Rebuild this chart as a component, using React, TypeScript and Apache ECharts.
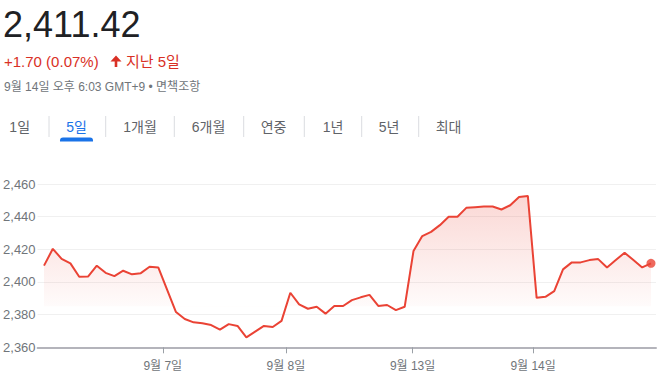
import React, { useEffect, useRef } from "react";
import * as echarts from "echarts";

// ---- data ----
const prices: number[] = [
  // 9/6
  2410.0, 2420.3, 2414.2, 2411.4, 2403.2, 2403.3, 2410.0, 2405.6, 2403.6, 2406.9, 2404.7, 2405.4, 2409.3, 2408.8,
  // 9/7
  2395.2, 2381.6, 2377.3, 2375.3, 2374.7, 2373.6, 2370.8, 2374.2, 2373.1, 2366.1, 2369.6, 2373.1, 2372.4, 2376.2,
  // 9/8
  2393.4, 2386.3, 2383.6, 2384.8, 2380.6, 2385.3, 2385.3, 2388.9, 2390.6, 2392.1, 2385.3, 2385.9, 2382.8, 2384.8,
  // 9/13
  2418.9, 2428.1, 2430.7, 2434.8, 2439.9, 2439.9, 2445.4, 2445.8, 2446.2, 2446.2, 2444.4, 2447.0, 2452.1, 2452.7,
  // 9/14
  2390.3, 2390.9, 2394.4, 2407.7, 2412.0, 2412.0, 2413.4, 2414.0, 2408.9, 2413.4, 2417.9, 2413.4, 2408.9, 2411.42,
];
const dayLabels: string[] = ["9월 7일", "9월 8일", "9월 13일", "9월 14일"];
const dayTickPos: number[] = [13.5, 27.5, 41.9, 55.6];
const yMin = 2360;
const yMax = 2460;
const yStep = 20;
const baseline = 2385;

const priceText = "2,411.42";
const changeText = "+1.70 (0.07%)";
const periodText = "지난 5일";
const dateText = "9월 14일 오후 6:03 GMT+9 • 면책조항";
const tabs: string[] = ["1일", "5일", "1개월", "6개월", "연중", "1년", "5년", "최대"];
const activeTab = 1;

const FONT = "'Liberation Sans', Arial, 'Noto Sans CJK KR', sans-serif";
const RED = "#ea4335";
const TEXT_RED = "#d93025";
const GRAY = "#70757a";

export default function App() {
  const ref = useRef<HTMLDivElement>(null);
  useEffect(() => {
    document.body.style.margin = "0";
    if (!ref.current) return;
    const chart = echarts.init(ref.current, undefined, { renderer: "svg" });

    const tabCenters = [19.7, 76.5, 140, 208.5, 273.5, 333, 389, 448.5];
    const sepX = [49, 105.7, 174.3, 243.7, 304.3, 361.7, 418.7];

    const graphic: any[] = [
      { type: "text", x: 3, y: 24, style: { text: priceText, font: `36px ${FONT}`, fill: "#202124", verticalAlign: "middle" } },
      { type: "text", x: 4, y: 61, style: { text: changeText, font: `15px ${FONT}`, fill: TEXT_RED, verticalAlign: "middle" } },
      {
        type: "polygon",
        shape: { points: [[110.5, 61.5], [116, 55.5], [121.5, 61.5], [117.3, 61.5], [117.3, 67], [114.7, 67], [114.7, 61.5]] },
        style: { fill: TEXT_RED },
      },
      { type: "text", x: 126, y: 61, style: { text: periodText, font: `15px ${FONT}`, fill: TEXT_RED, verticalAlign: "middle" } },
      { type: "text", x: 4, y: 86.5, style: { text: dateText, font: `12px ${FONT}`, fill: GRAY, verticalAlign: "middle" } },
    ];
    tabs.forEach((t, i) => {
      graphic.push({
        type: "text",
        x: tabCenters[i],
        y: 127,
        style: {
          text: t,
          font: `14px ${FONT}`,
          fill: i === activeTab ? "#1a73e8" : "#5f6368",
          align: "center",
          verticalAlign: "middle",
        },
      });
    });
    sepX.forEach((x) => {
      graphic.push({ type: "line", shape: { x1: x, y1: 116, x2: x, y2: 137 }, style: { stroke: "#dadce0", lineWidth: 1 } });
    });
    graphic.push({
      type: "rect",
      shape: { x: 60, y: 137.5, width: 33, height: 4, r: [3, 3, 0, 0] },
      style: { fill: "#1a73e8" },
    });

    const last = prices.length - 1;

    chart.setOption({
      animation: false,
      grid: { left: 37.6, right: 7, top: 184, bottom: 34.7, containLabel: false },
      xAxis: {
        type: "value",
        min: -0.73,
        max: 69.57,
        splitLine: { show: false },
        axisLine: { show: true, lineStyle: { color: "#b4b4bb", width: 2 } },
        axisTick: { show: true, length: 6, lineStyle: { color: "#9aa0a6", width: 1 }, customValues: dayTickPos },
        axisLabel: {
          show: true,
          customValues: dayTickPos,
          margin: 13,
          color: GRAY,
          fontSize: 12,
          fontFamily: FONT,
          formatter: (v: number) => {
            const idx = dayTickPos.findIndex((p) => Math.abs(p - v) < 1e-6);
            return idx >= 0 ? dayLabels[idx] : "";
          },
        },
      },
      yAxis: {
        type: "value",
        min: yMin,
        max: yMax,
        interval: yStep,
        axisLine: { show: false },
        axisTick: { show: false },
        splitLine: { show: true, lineStyle: { color: "#f0f0f0", width: 1 } },
        axisLabel: {
          margin: 2,
          color: GRAY,
          fontSize: 13,
          fontFamily: FONT,
          formatter: (v: number) => v.toLocaleString("en-US"),
        },
      },
      series: [
        {
          type: "line",
          data: prices.map((v, i) => [i, v]),
          showSymbol: false,
          symbol: "none",
          lineStyle: { color: RED, width: 2 },
          areaStyle: {
            origin: baseline,
            color: {
              type: "linear",
              x: 0,
              y: 0,
              x2: 0,
              y2: 1,
              colorStops: [
                { offset: 0, color: "rgba(234,67,53,0.30)" },
                { offset: 0.78, color: "rgba(234,67,53,0.03)" },
                { offset: 0.785, color: "rgba(234,67,53,0)" },
                { offset: 1, color: "rgba(234,67,53,0)" },
              ],
            },
          },
          z: 2,
        },
        {
          type: "scatter",
          data: [[last, prices[last]]],
          symbol: "circle",
          symbolSize: 9,
          itemStyle: { color: RED },
          z: 3,
        },
      ],
      graphic,
    });
    return () => chart.dispose();
  }, []);
  return <div ref={ref} style={{ width: 663, height: 382 }} />;
}
